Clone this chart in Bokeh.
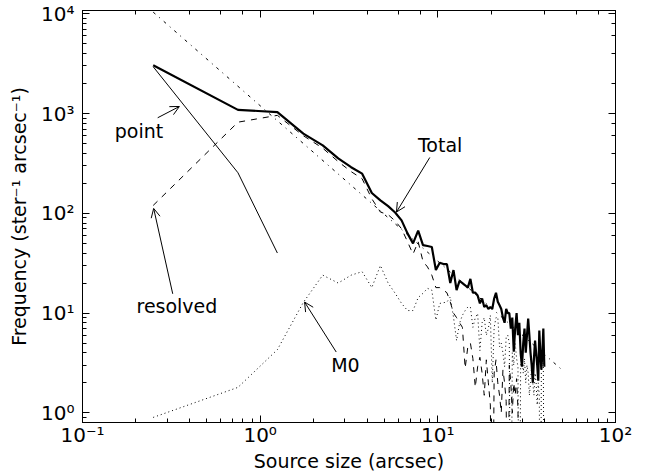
import numpy as np
from bokeh.plotting import figure
from bokeh.models import (Range1d, LogAxis, LogTicker, CustomJSTickFormatter,
                          Arrow, OpenHead, ColumnDataSource)
from bokeh.core.properties import value
from bokeh.embed import file_html
from bokeh.resources import INLINE

# Source-size bins (arcsec), 0.5" wide
size_bins = [
    0.25, 0.75, 1.25, 1.75, 2.25, 2.75, 3.25, 3.75, 4.25, 4.75,
    5.25, 5.75, 6.25, 6.75, 7.25, 7.75, 8.25, 8.75, 9.25, 9.75,
    10.25, 10.75, 11.25, 11.75, 12.25, 12.75, 13.25, 13.75, 14.25, 14.75,
    15.25, 15.75, 16.25, 16.75, 17.25, 17.75, 18.25, 18.75, 19.25, 19.75,
    20.25, 20.75, 21.25, 21.75, 22.25, 22.75, 23.25, 23.75, 24.25, 24.75,
    25.25, 25.75, 26.25, 26.75, 27.25, 27.75, 28.25, 28.75, 29.25, 29.75,
    30.25, 30.75, 31.25, 31.75, 32.25, 32.75, 33.25, 33.75, 34.25, 34.75,
    35.25, 35.75, 36.25, 36.75, 37.25, 37.75, 38.25, 38.75, 39.25, 39.75,
]

# Frequency (ster^-1 arcsec^-1) per bin
total_freq = [
    3050, 1090, 1035, 630, 480, 355, 290, 250, 160, 135,
    118, 102, 85, 63, 50, 67, 48, 47, 46, 27,
    32, 31, 31, 20, 27, 17, 21, 20, 19, 18,
    22, 16, 16, 15, 12.5, 14, 11.5, 12, 11, 11.5,
    11, 14, 16, 13, 12, 11, 9, 8, 11, 10,
    10, 7, 9, 4.1, 7, 10, 6, 8, 4, 2.9,
    5, 7, 4, 6, 8.8, 6, 4, 3, 2.0, 3.5,
    5.3, 4, 3, 2.1, 6.7, 4, 2.7, 4, 7, 2.9,
]

resolved_freq = [
    120, 820, 960, 600, 450, 330, 262, 222, 140, 103,
    97, 84, 70, 52, 39, 52, 33, 29, 24, 18,
    18, 17, 16, 12.9, 10, 9, 8, 7.2, 2.8, 4.6,
    5, 3.5, 1.8, 2.9, 3.6, 2.5, 1.5, 3.4, 2, 1.2,
    0, 2.5, 3.4, 2, 1.5, 1, 2.7, 2, 1.3, 0,
    3, 2, 1, 2, 1.5, 2.2, 1.1, 0, 0, 0,
    0, 0, 0, 0, 0, 0, 0, 0, 0, 0,
    0, 0, 0, 0, 0, 0, 0, 0, 0, 0,
]

m0_freq = [
    0.9, 1.8, 4.3, 12.8, 24, 20, 24, 26, 18, 30,
    20, 15.8, 12.5, 10.6, 10.6, 14.3, 15.8, 17.7, 17, 8.5,
    12.5, 12.7, 12.9, 14.5, 9.1, 5.3, 7.9, 9.5, 10.6, 11.5,
    11.5, 7.2, 9, 9.9, 4.2, 8, 9, 6, 7, 9.5,
    2, 7.2, 9, 9.1, 4.6, 5, 4, 2.9, 5.7, 6,
    5, 0, 4, 3, 5, 3.5, 2.9, 0, 3, 4,
    2.5, 3.5, 2, 3, 2.5, 1.5, 2, 3, 2, 1.5,
    2.5, 2, 1.2, 2, 1.5, 0, 2.5, 3.5, 3, 0,
]

point_bins = [0.25, 0.75, 1.25]
point_freq = [2950, 255, 40]

# power-law fit, end points
fit_size = [0.25, 50.0]
fit_freq = [10400, 2.7]

CLIP = 1e-2  # non-positive counts are clipped below the axis, like a log plot


def clipped(vals):
    a = np.asarray(vals, dtype=float)
    return np.where(a > 0, a, CLIP)


src = ColumnDataSource(dict(
    x=size_bins,
    total=clipped(total_freq),
    resolved=clipped(resolved_freq),
    m0=clipped(m0_freq),
))

FONT = "DejaVu Sans"

p = figure(width=645, height=474, x_axis_type="log", y_axis_type="log",
           x_range=Range1d(0.1, 100), y_range=Range1d(0.8, 1.08e4),
           output_backend="svg", toolbar_location=None,
           min_border_left=82, min_border_right=30,
           min_border_top=10, min_border_bottom=52)
p.grid.visible = False
p.background_fill_color = "white"
p.border_fill_color = "white"
p.outline_line_color = "black"
p.outline_line_width = 1

# curves
p.line(fit_size, fit_freq, line_color="black", line_width=1, line_dash="3 5 1 5")
p.line("x", "m0", source=src, line_color="black", line_width=1, line_dash="1 3")
p.line("x", "resolved", source=src, line_color="black", line_width=1, line_dash="6 6")
p.line(point_bins, point_freq, line_color="black", line_width=1)
p.line("x", "total", source=src, line_color="black", line_width=2.2)

# tick labels as 10 with superscript exponent
sup_code = """
const m = {'-':'\u207b','0':'\u2070','1':'\u00b9','2':'\u00b2','3':'\u00b3',
           '4':'\u2074','5':'\u2075','6':'\u2076','7':'\u2077','8':'\u2078','9':'\u2079'};
const e = Math.round(Math.log10(tick));
return '10' + String(e).split('').map(c => m[c]).join('');
"""
blank_code = "return '';"


def style_axis(ax, labels=True):
    ax.axis_line_color = "black"
    ax.major_tick_line_color = "black"
    ax.minor_tick_line_color = "black"
    ax.major_tick_in = 7
    ax.major_tick_out = 0
    ax.minor_tick_in = 4
    ax.minor_tick_out = 0
    ax.major_label_text_font = FONT
    ax.major_label_text_font_size = "20px"
    ax.major_label_text_color = "black"
    ax.axis_label_text_font = FONT
    ax.axis_label_text_font_size = "19px"
    ax.axis_label_text_font_style = "normal"
    ax.axis_label_text_color = "black"
    ax.formatter = CustomJSTickFormatter(code=sup_code if labels else blank_code)


p.xaxis.axis_label = "Source size (arcsec)"
p.yaxis.axis_label = "Frequency (ster\u207b\u00b9 arcsec\u207b\u00b9)"
style_axis(p.xaxis[0])
style_axis(p.yaxis[0])
p.xaxis.major_label_standoff = 0
p.yaxis.major_label_standoff = 8
p.xaxis.axis_label_standoff = 0
p.yaxis.axis_label_standoff = 8

top = LogAxis(ticker=LogTicker())
right = LogAxis(ticker=LogTicker())
style_axis(top, labels=False)
style_axis(right, labels=False)
top.major_label_text_font_size = "1px"
right.major_label_text_font_size = "1px"
top.major_label_standoff = 0
right.major_label_standoff = 0
p.add_layout(top, "above")
p.add_layout(right, "right")

# annotations: label, text position, arrow start, arrow tip
notes = [
    ("point",    (0.208, 676), (0.265, 908), (0.351, 1178)),
    ("resolved", (0.340, 11.8), (0.322, 15.6), (0.2515, 112)),
    ("Total",    (10.3, 484), (9.01, 363), (5.85, 103)),
    ("M0",       (3.02, 2.99), (2.68, 4.07), (1.778, 12.9)),
]

p.text(x=[n[1][0] for n in notes], y=[n[1][1] for n in notes],
       text=[n[0] for n in notes], text_font=value(FONT),
       text_font_size="19px", text_align="center", text_baseline="middle",
       text_color="black")

for _, _, start, tip in notes:
    p.add_layout(Arrow(end=OpenHead(size=9, line_width=1, line_color="black"),
                       x_start=start[0], y_start=start[1],
                       x_end=tip[0], y_end=tip[1],
                       line_width=1, line_color="black"))

open("out.html", "w").write(file_html(p, INLINE))
